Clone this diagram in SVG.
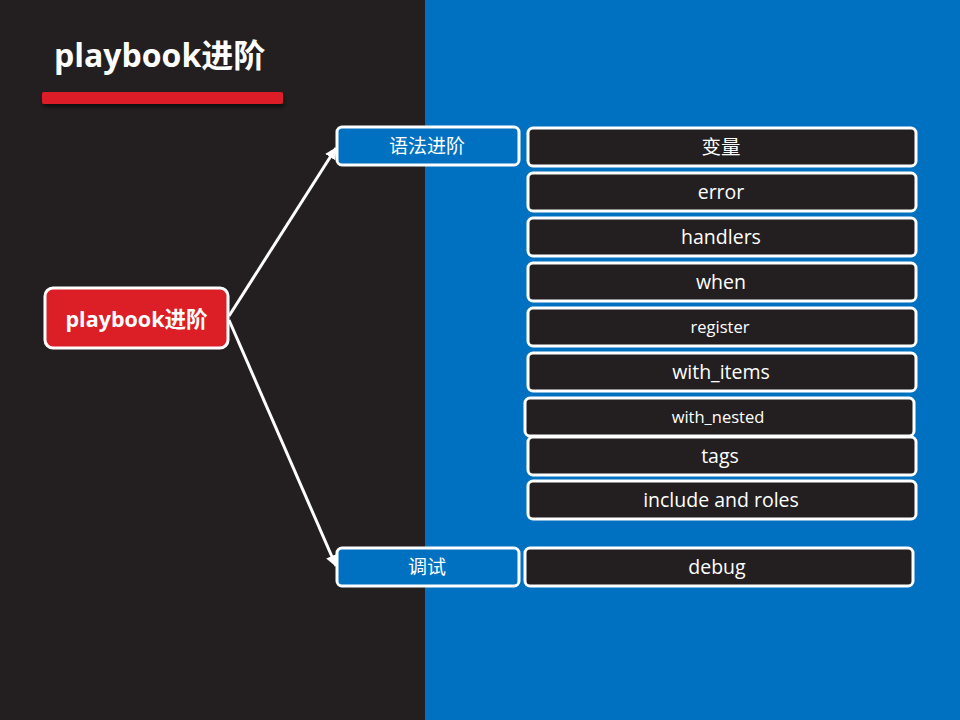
<svg xmlns="http://www.w3.org/2000/svg" width="960" height="720" viewBox="0 0 960 720">
<defs>
<marker id="arr" viewBox="0 0 10 10" refX="9" refY="5" markerWidth="4" markerHeight="4" orient="auto" markerUnits="strokeWidth">
<path d="M0,0 L10,5 L0,10 z" fill="#FFFFFF"/>
</marker>
<filter id="sh" x="-10%" y="-50%" width="120%" height="250%">
<feDropShadow dx="1" dy="3" stdDeviation="2" flood-color="#000" flood-opacity="0.6"/>
</filter>
</defs>
<style>
text{font-family:"Open Sans","Noto Sans CJK SC",sans-serif;fill:#FFFFFF;text-anchor:middle;}
.item rect{fill:#231F20;stroke:#FFFFFF;stroke-width:3;}
.item text{font-size:19.5px;}
.item text.sm{font-size:16.5px;}
.branch rect{fill:#0070C0;stroke:#FFFFFF;stroke-width:3;}
.branch text{font-size:19px;}
.conn{stroke:#FFFFFF;stroke-width:3;fill:none;marker-end:url(#arr);}
</style>
<rect x="0" y="0" width="425" height="720" fill="#231F20"/>
<rect x="425" y="0" width="535" height="720" fill="#0070C0"/>
<g id="title">
<text x="54" y="67" style="font-size:32px;font-weight:bold;text-anchor:start;">playbook进阶</text>
<rect x="42" y="92" width="241" height="12" rx="2" fill="#DC1E26" filter="url(#sh)"/>
</g>
<g id="connectors">
<line class="conn" x1="229" y1="316" x2="336" y2="148"/>
<line class="conn" x1="229" y1="320" x2="336" y2="566"/>
</g>
<g id="root">
<rect x="45" y="288" width="183" height="60" rx="8" fill="#DC1E26" stroke="#FFFFFF" stroke-width="3"/>
<text x="136.5" y="327" style="font-size:21.5px;font-weight:bold;">playbook进阶</text>
</g>
<g id="b1" class="branch">
<rect x="337" y="127" width="182" height="38" rx="5"/>
<text x="427" y="153">语法进阶</text>
</g>
<g id="b2" class="branch">
<rect x="337" y="548" width="182" height="38" rx="5"/>
<text x="427" y="574">调试</text>
</g>
<g id="n1" class="item"><rect x="528" y="128" width="388" height="38" rx="5"/><text x="721" y="154">变量</text></g>
<g id="n2" class="item"><rect x="528" y="173" width="388" height="38" rx="5"/><text x="721" y="199">error</text></g>
<g id="n3" class="item"><rect x="528" y="218" width="388" height="38" rx="5"/><text x="721" y="244">handlers</text></g>
<g id="n4" class="item"><rect x="528" y="263" width="388" height="38" rx="5"/><text x="721" y="289">when</text></g>
<g id="n5" class="item"><rect x="528" y="308" width="388" height="38" rx="5"/><text class="sm" x="720" y="333">register</text></g>
<g id="n6" class="item"><rect x="528" y="353" width="388" height="38" rx="5"/><text x="721" y="379">with_items</text></g>
<g id="n7" class="item"><rect x="525" y="398" width="389" height="38" rx="5"/><text class="sm" x="718" y="423">with_nested</text></g>
<g id="n8" class="item"><rect x="528" y="437" width="388" height="38" rx="5"/><text x="720" y="463">tags</text></g>
<g id="n9" class="item"><rect x="528" y="481" width="388" height="38" rx="5"/><text x="721" y="507">include and roles</text></g>
<g id="n10" class="item"><rect x="525" y="548" width="388" height="38" rx="5"/><text x="717" y="574">debug</text></g>
</svg>
